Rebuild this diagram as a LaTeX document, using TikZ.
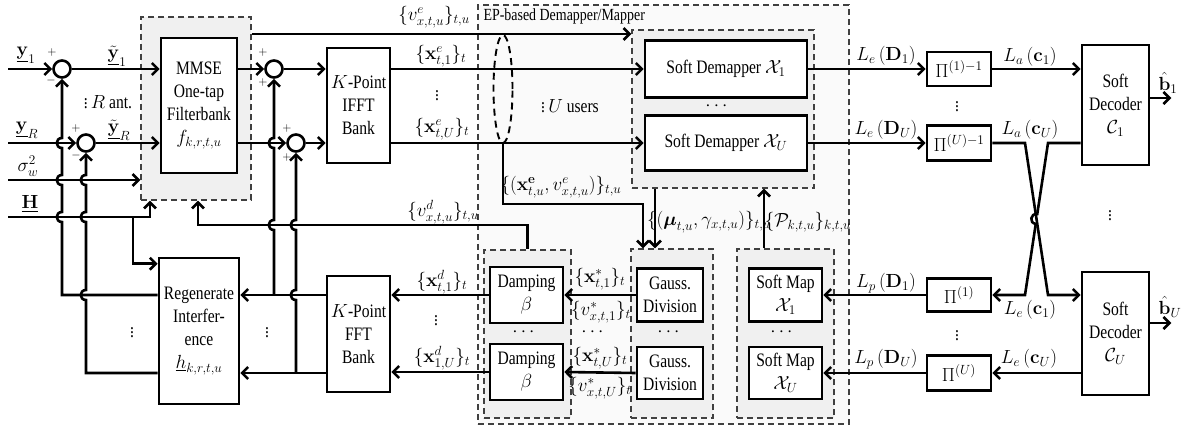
\RequirePackage{fix-cm}
\documentclass[tikz,border=0pt]{standalone}
\usepackage{amsmath}
\usepackage[no-math]{fontspec}
\setmainfont{Liberation Serif}[FakeStretch=0.82]
\usetikzlibrary{arrows.meta,calc,shapes.geometric}
\newcommand\myfs{\fontsize{19}{23}\selectfont}
\begin{document}
\begin{tikzpicture}[x=1pt,y=-1pt,
  every node/.style={font=\myfs},
  lw/.style={line width=2.6pt},
  arr/.style={lw,-{Straight Barb[length=6pt,width=12pt]}},
  arrs/.style={lw,{Straight Barb[length=6pt,width=12pt]}-},
  box/.style={draw,lw,fill=white,align=center,inner sep=1pt},
  grp/.style={draw=black!75,line width=1.3pt,dash pattern=on 6pt off 4pt,fill=black!6,inner sep=0pt},
  sumc/.style={circle,draw,lw,minimum size=17pt,inner sep=0pt},
  sg/.style={font=\fontsize{12}{12}\selectfont,inner sep=0pt},
  hv/.style args={#1/#2}{insert path={-- (#1,#2-5) .. controls (#1-7,#2-5) and (#1-7,#2+5) .. (#1,#2+5)}},
]
\useasboundingbox (0,0) rectangle (1183,428);
% group backgrounds
\node[grp,minimum width=371,minimum height=419,fill=black!2] (ep) at (663.5,214.5) {};
\node[grp,minimum width=110,minimum height=183] (mmseg) at (196,108.5) {};
\node[grp,minimum width=182,minimum height=158] (sdg) at (723,109) {};
\node[grp,minimum width=87,minimum height=168] (dg) at (527.5,334) {};
\node[grp,minimum width=82,minimum height=169] (gg) at (672,333.5) {};
\node[grp,minimum width=97,minimum height=169] (mg) at (785.5,333.5) {};
\node[anchor=west,font=\fontsize{17}{17}\selectfont] (eplab) at (480,16) {EP-based Demapper/Mapper};
% boxes
\node[box,minimum width=76,minimum height=135] (mmse) at (199,105.5) {MMSE\\One-tap\\Filterbank\\$f_{k,r,t,u}$};
\node[box,minimum width=63,minimum height=115] (ifft) at (358.5,105.5) {$K$-Point\\IFFT\\Bank};
\node[box,minimum width=63,minimum height=116] (fft) at (358.5,334) {$K$-Point\\FFT\\Bank};
\node[box,minimum width=80,minimum height=146] (regen) at (199,331) {Regenerate\\Interfer-\\ence\\$\underline{h}_{k,r,t,u}$};
\node[box,minimum width=162,minimum height=57] (sd1) at (726,69) {Soft Demapper $\mathcal{X}_1$};
\node[box,minimum width=162,minimum height=55] (sdu) at (726,143) {Soft Demapper $\mathcal{X}_U$};
\node[box,minimum width=73,minimum height=56] (d1) at (526.5,295) {Damping\\$\beta$};
\node[box,minimum width=73,minimum height=56] (du) at (526.5,372) {Damping\\$\beta$};
\node[box,minimum width=66,minimum height=53] (g1) at (670,295) {Gauss.\\Division};
\node[box,minimum width=66,minimum height=52] (gu) at (670,373) {Gauss.\\Division};
\node[box,minimum width=73,minimum height=53] (m1) at (785.5,295) {Soft Map\\$\mathcal{X}_1$};
\node[box,minimum width=73,minimum height=52] (mu) at (785.5,373) {Soft Map\\$\mathcal{X}_U$};
\node[box,minimum width=64,minimum height=34] (p1i) at (959,69) {$\Pi^{(1)-1}$};
\node[box,minimum width=64,minimum height=35] (pui) at (959,143) {$\Pi^{(U)-1}$};
\node[box,minimum width=64,minimum height=33] (p1) at (959,295) {$\Pi^{(1)}$};
\node[box,minimum width=64,minimum height=35] (pu) at (959,373) {$\Pi^{(U)}$};
\node[box,minimum width=67,minimum height=120] (dec1) at (1115.5,105) {Soft\\Decoder\\$\mathcal{C}_1$};
\node[box,minimum width=67,minimum height=123] (decu) at (1115.5,333.5) {Soft\\Decoder\\$\mathcal{C}_U$};
% summing junctions
\node[sumc] (s1) at (62,69) {};
\node[sumc] (sR) at (86,143) {};
\node[sumc] (a1) at (274,69) {};
\node[sumc] (aR) at (296,143) {};
\node[ellipse,draw,line width=1.9pt,dash pattern=on 7pt off 5pt,minimum width=19,minimum height=108,inner sep=0pt] (ell) at (503,89) {};
% coordinates
\coordinate (in1) at (8,69);
\coordinate (inR) at (8,143);
\coordinate (inS) at (8,180);
\coordinate (inH) at (8,217);
\coordinate (yA) at (0,295);
\coordinate (yB) at (0,373);
\coordinate (yT) at (0,34);
\coordinate (yvd) at (0,225);
\coordinate (yb1) at (0,98);
\coordinate (ybU) at (0,323);
\coordinate (xH) at (150,0);
\coordinate (xHb) at (133,0);
\coordinate (xvd) at (198,0);
\coordinate (xex) at (643,0);
\coordinate (xmu) at (655,0);
\coordinate (xP) at (764,0);
\coordinate (xL) at (1025,0);
\coordinate (xR) at (1048,0);
% connectors
\draw[arr] (in1) -- (s1);
\draw[arr] (s1) -- (mmse.west |- s1);
\draw[arr] (inR) -- (sR);
\draw[arr] (sR) -- (mmse.west |- sR);
\draw[arr] (inS) -- (mmseg.west |- inS);
\draw[arr] (inH) -| (mmseg.south -| xH);
\draw[arr] (inH -| xHb) |- ($(regen.north west)+(0,7)$);
\draw[arrs] (s1.south) [hv=62/143] [hv=62/180] [hv=62/217] |- (regen.west |- yA);
\draw[arrs] (sR.south) [hv=86/180] [hv=86/217] [hv=86/295] |- (regen.west |- yB);
\draw[arr] (mmse.east |- a1) -- (a1);
\draw[arr] (mmse.east |- aR) -- (aR);
\draw[arr] (a1) -- (ifft.west |- a1);
\draw[arr] (aR) -- (ifft.west |- aR);
\draw[arrs] (a1.south) [hv=274/143] [hv=274/225] -- (a1 |- yA);
\draw[arrs] (aR.south) [hv=296/225] [hv=296/295] -- (aR |- yB);
\draw[arr] (fft.west |- yA) -- (regen.east |- yA);
\draw[arr] (fft.west |- yB) -- (regen.east |- yB);
\draw[arr] (mmseg.east |- yT) -- (sdg.west |- yT);
\draw[arr] (ifft.east |- a1) -- (sd1.west);
\draw[arr] (ifft.east |- aR) -- (sdu.west);
\draw[arr] (ell.south) -- ++(0,60) -| (gg.north -| xex);
\draw[arr] (sdg.south -| xmu) -- (gg.north -| xmu);
\draw[arr] (mg.north -| xP) -- (sdg.south -| xP);
\draw[arrs] (mmseg.south -| xvd) |- (yvd -| dg.north) -- (dg.north);
\draw[arr] (d1.west) -- (fft.east |- d1);
\draw[arr] (du.west) -- (fft.east |- du);
\draw[arr] (g1.west) -- (d1.east);
\draw[arr] (gu.west) -- (du.east);
\draw[arr] (p1.west) -- (m1.east);
\draw[arr] (pu.west) -- (mu.east);
\draw[arr] (sd1.east) -- (p1i.west);
\draw[arr] (sdu.east) -- (pui.west);
\draw[arr] (p1i.east) -- (dec1.west |- p1i);
\draw[arr] (pui.east) -- (pui -| xL) -- (p1 -| xR) -- (decu.west |- p1);
\draw[arr] (dec1.west |- pui) -- (pui -| xR) -- (1037.25,214.06) .. controls (1030.35,213.06) and (1028.85,222.94) .. (1035.75,223.94) -- (p1 -| xL) -- (p1.east);
\draw[arr] (decu.west |- pu) -- (pu.east);
\draw[arr] (dec1.east |- yb1) -- ++(21,0);
\draw[arr] (decu.east |- ybU) -- ++(21,0);
% labels
\node at (26,55) {$\underline{\mathbf{y}}_1$};
\node at (27,130) {$\underline{\mathbf{y}}_R$};
\node at (28,166) {$\sigma_w^2$};
\node at (30,204) {$\underline{\mathbf{H}}$};
\node at (117,56) {$\tilde{\underline{\mathbf{y}}}_1$};
\node at (119,130) {$\tilde{\underline{\mathbf{y}}}_R$};
\node at (108,101) {$\vdots\,R$ ant.};
\node[sg] at (52,53) {$+$};
\node[sg] at (51,80) {$-$};
\node[sg] at (76,128) {$+$};
\node[sg] at (76,155) {$-$};
\node[sg] at (263,53) {$+$};
\node[sg] at (263,82) {$+$};
\node[sg] at (287,128) {$+$};
\node[sg] at (287,157) {$+$};
\node at (434,17) {$\{v^e_{x,t,u}\}_{t,u}$};
\node at (441,56) {$\{\mathbf{x}^e_{t,1}\}_t$};
\node at (437,93) {$\vdots$};
\node at (442,129) {$\{\mathbf{x}^e_{t,U}\}_t$};
\node at (570,105) {$\vdots\,U$ users};
\node at (561,187) {$\{(\mathbf{x}^{\mathbf{e}}_{t,u},v^e_{x,t,u})\}_{t,u}$};
\node at (718,106) {$\cdots$};
\node at (443,212) {$\{v^d_{x,t,u}\}_{t,u}$};
\node at (709,222) {$\{(\boldsymbol{\mu}_{t,u},\gamma_{x,t,u})\}_{t,u}$};
\node at (808,222) {$\{\mathcal{P}_{k,t,u}\}_{k,t,u}$};
\node at (442,282) {$\{\mathbf{x}^d_{t,1}\}_t$};
\node at (436,318) {$\vdots$};
\node at (442,358) {$\{\mathbf{x}^d_{1,U}\}_t$};
\node at (600,279) {$\{\mathbf{x}^*_{t,1}\}_t$};
\node at (601,312) {$\{v^*_{x,t,1}\}_t$};
\node at (594,332) {$\cdots$};
\node at (600,358) {$\{\mathbf{x}^*_{t,U}\}_t$};
\node at (600,388) {$\{v^*_{x,t,U}\}_t$};
\node at (525,332) {$\cdots$};
\node at (670,332) {$\cdots$};
\node at (783,332) {$\cdots$};
\node at (886,56) {$L_e\left(\mathbf{D}_1\right)$};
\node at (886,130) {$L_e\left(\mathbf{D}_U\right)$};
\node at (886,283) {$L_p\left(\mathbf{D}_1\right)$};
\node at (886,359) {$L_p\left(\mathbf{D}_U\right)$};
\node at (957,104) {$\vdots$};
\node at (957,333) {$\vdots$};
\node at (1030,57) {$L_a\left(\mathbf{c}_1\right)$};
\node at (1030,130) {$L_a\left(\mathbf{c}_U\right)$};
\node at (1030,310) {$L_e\left(\mathbf{c}_1\right)$};
\node at (1029,359) {$L_e\left(\mathbf{c}_U\right)$};
\node at (1168,83) {$\hat{\mathbf{b}}_1$};
\node at (1170,307) {$\hat{\mathbf{b}}_U$};
\node at (1110,213) {$\vdots$};
\node at (132,330) {$\vdots$};
\node at (267,330) {$\vdots$};
\end{tikzpicture}
\end{document}
